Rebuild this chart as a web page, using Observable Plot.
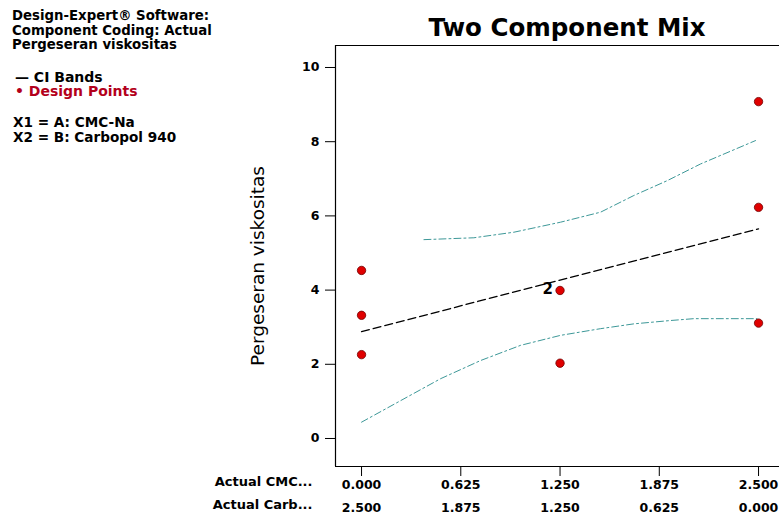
<!DOCTYPE html>
<html>
<head>
<meta charset="utf-8">
<script src="https://cdn.jsdelivr.net/npm/d3@7"></script>
<script src="https://cdn.jsdelivr.net/npm/@observablehq/plot@0.6"></script>
<style>
  html, body { margin: 0; padding: 0; background: white; }
  #wrap { position: relative; width: 779px; height: 518px; overflow: hidden; font-family: "DejaVu Sans", sans-serif; }
  #wrap svg { position: absolute; left: 0; top: 0; }
  .ov { position: absolute; white-space: nowrap; font-weight: bold; color: #000; }
  .info { left: 12px; font-size: 13.3px; line-height: 14.5px; }
</style>
</head>
<body>
<div id="wrap"></div>
<script>
// ---- data ----
const infoLines = ["Design-Expert® Software:", "Component Coding: Actual", "Pergeseran viskositas"];
const legendItems = ["CI Bands", "Design Points"];
const factorLines = ["X1 = A: CMC-Na", "X2 = B: Carbopol 940"];
const title = "Two Component Mix";
const yLabel = "Pergeseran viskositas";
const rowLabels = ["Actual CMC...", "Actual Carb..."];

const xTicks = [0, 0.625, 1.25, 1.875, 2.5];
const cmcLabels = ["0.000", "0.625", "1.250", "1.875", "2.500"];
const carbLabels = ["2.500", "1.875", "1.250", "0.625", "0.000"];
const yTicks = [0, 2, 4, 6, 8, 10];

// design points (CMC-Na actual, response)
const pointX = [0, 0, 0, 1.25, 1.25, 2.5, 2.5, 2.5];
const pointY = [4.53, 3.32, 2.26, 3.99, 2.03, 9.08, 6.23, 3.11];

// replicate label
const repX = [1.25];
const repY = [3.99];
const repLabel = ["2"];

// fitted line
const fitX = [0, 1.25, 2.5];
const fitY = [2.88, 4.27, 5.65];

// upper CI band
const upX = [0.393, 0.707, 0.959, 1.253, 1.505, 1.715, 1.925, 2.135, 2.481];
const upY = [5.36, 5.41, 5.56, 5.83, 6.10, 6.55, 6.95, 7.40, 8.03];

// lower CI band
const loX = [0, 0.246, 0.497, 0.749, 1.001, 1.253, 1.505, 1.715, 1.946, 2.093, 2.49];
const loY = [0.44, 1.02, 1.61, 2.10, 2.51, 2.78, 2.96, 3.09, 3.18, 3.23, 3.23];

const xDomain = [-0.164, 2.632];
const yDomain = [-0.755, 10.593];

// ---- build tables ----
const points = pointX.map((x, i) => ({x, y: pointY[i]}));
const reps = repX.map((x, i) => ({x, y: repY[i], t: repLabel[i]}));
const fit = fitX.map((x, i) => ({x, y: fitY[i]}));
const upper = upX.map((x, i) => ({x, y: upY[i]}));
const lower = loX.map((x, i) => ({x, y: loY[i]}));

const teal = "#3d9898";

const chart = Plot.plot({
  width: 779,
  height: 518,
  marginLeft: 335,
  marginRight: 0,
  marginTop: 45,
  marginBottom: 52,
  x: {domain: xDomain},
  y: {domain: yDomain},
  style: {fontFamily: "DejaVu Sans", fontSize: "12.5px", fontWeight: "bold", background: "transparent", color: "black", overflow: "visible"},
  marks: [
    Plot.ruleY([yDomain[0], yDomain[1]], {stroke: "black", strokeWidth: 1.2}),
    Plot.ruleX([xDomain[0]], {stroke: "black", strokeWidth: 1.2}),
    Plot.axisY({ticks: yTicks, tickSize: 10, tickPadding: 6, label: null, tickFormat: d => String(d), fontSize: 12.5, fontWeight: "bold"}),
    Plot.axisX({ticks: xTicks, tickSize: 10, tickPadding: 4, label: null, tickFormat: d => cmcLabels[xTicks.indexOf(d)]}),
    Plot.axisX({ticks: xTicks, tickSize: 0, tickPadding: 37, label: null, tickFormat: d => carbLabels[xTicks.indexOf(d)]}),
    Plot.line(upper, {x: "x", y: "y", stroke: teal, strokeWidth: 1, strokeDasharray: "7,3,2,3"}),
    Plot.line(lower, {x: "x", y: "y", stroke: teal, strokeWidth: 1, strokeDasharray: "7,3,2,3"}),
    Plot.line(fit, {x: "x", y: "y", stroke: "black", strokeWidth: 1.3, strokeDasharray: "8,4"}),
    Plot.dot(points, {x: "x", y: "y", r: 4.2, fill: "#e00000", stroke: "#700000", strokeWidth: 0.8}),
    Plot.text(reps, {x: "x", y: "y", text: "t", dx: -7, dy: -1, textAnchor: "end", fontSize: 15, fontWeight: "bold"}),
    Plot.text([yLabel], {frameAnchor: "left", text: d => d, textAnchor: "middle", lineAnchor: "middle", rotate: -90, dx: -77, dy: 10, fontSize: 18.5, fontWeight: "normal"}),
    Plot.text([rowLabels[0]], {frameAnchor: "bottom-left", text: d => d, textAnchor: "end", dx: -23, dy: 19, fontSize: 13, fontWeight: "bold"}),
    Plot.text([rowLabels[1]], {frameAnchor: "bottom-left", text: d => d, textAnchor: "end", dx: -23, dy: 42, fontSize: 13, fontWeight: "bold"})
  ]
});

const wrap = document.getElementById("wrap");
wrap.appendChild(chart);

function addDiv(cls, css, html) {
  const d = document.createElement("div");
  d.className = "ov " + cls;
  d.style.cssText = css;
  d.innerHTML = html;
  wrap.appendChild(d);
  return d;
}
addDiv("info", "top:9px;", infoLines.join("<br>"));
addDiv("info", "top:69.5px;left:15px;font-size:14px;", "— " + legendItems[0] + "<br><span style='color:#b3001b'>• " + legendItems[1] + "</span>");
addDiv("info", "top:115px;left:13px;font-size:13.6px;", factorLines.join("<br>"));
addDiv("", "left:367px;width:400px;text-align:center;top:16px;font-size:24.5px;line-height:24px;", title);
</script>
</body>
</html>
